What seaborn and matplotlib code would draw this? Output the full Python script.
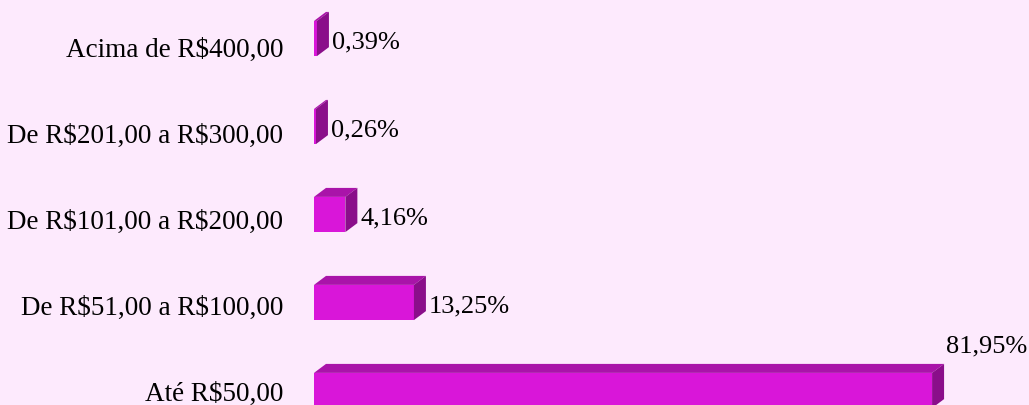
import matplotlib
matplotlib.use("Agg")
import matplotlib.pyplot as plt
import matplotlib.transforms as mtransforms
from matplotlib.patches import Polygon
import seaborn as sns
import pandas as pd

# --- data ---
faixas = ["Acima de R$400,00", "De R$201,00 a R$300,00", "De R$101,00 a R$200,00",
          "De R$51,00 a R$100,00", "Até R$50,00"]
percentuais = [0.39, 0.26, 4.16, 13.25, 81.95]
rotulos = ["0,39%", "0,26%", "4,16%", "13,25%", "81,95%"]

df = pd.DataFrame({"faixa": faixas, "pct": percentuais})

BG = "#FDEAFD"
FRONT = "#D916D9"
TOP = "#A914A9"
SIDE = "#8A0E8A"

sns.set_theme(style="white")
plt.rcParams["font.family"] = ["Liberation Serif", "DejaVu Serif"]
plt.rcParams["text.parse_math"] = False  # labels contain "$"

fig = plt.figure(figsize=(10.29, 4.05), dpi=100, facecolor=BG)
ax = fig.add_axes([314 / 1029, 0, 1 - 314 / 1029, 1])
ax.set_facecolor(BG)

sns.barplot(data=df, x="pct", y="faixa", orient="h", color=FRONT,
            saturation=1, width=0.4, ax=ax, linewidth=0)

ax.set_xlim(0, 94.8)
ax.set_ylim(4.165, -0.4375)

# 3D look: depth offsets in data units
dx = 1.59
dy = 0.102
for bar, txt, val in zip(ax.patches, rotulos, percentuais):
    x0, y0 = bar.get_x(), bar.get_y()
    w, h = bar.get_width(), bar.get_height()
    # with inverted y, y0 is the top edge visually
    top = Polygon([(x0, y0), (x0 + dx, y0 - dy), (x0 + w + dx, y0 - dy), (x0 + w, y0)],
                  closed=True, facecolor=TOP, edgecolor="none", zorder=3)
    side = Polygon([(x0 + w, y0), (x0 + w + dx, y0 - dy), (x0 + w + dx, y0 + h - dy), (x0 + w, y0 + h)],
                   closed=True, facecolor=SIDE, edgecolor="none", zorder=3)
    ax.add_patch(top)
    ax.add_patch(side)
    cy = y0 + h / 2
    if val == max(percentuais):
        ax.text(x0 + w + dx + 0.3, cy - 0.5, txt, ha="left", va="center", fontsize=19, color="black")
    else:
        ax.text(x0 + w + dx + 0.4, cy + 0.04, txt, ha="left", va="center", fontsize=19, color="black")

ax.set_xlabel("")
ax.set_ylabel("")
ax.set_xticks([])
ax.set_yticks(range(len(faixas)))
ax.set_yticklabels(faixas, fontsize=19.5, color="black")
ax.tick_params(axis="y", length=0, pad=22)
# category labels sit a little lower than the bars, less so toward the bottom
for i, lbl in enumerate(ax.get_yticklabels()):
    shift = mtransforms.ScaledTranslation(0, -(8.5 - 2.0 * i) / 100, fig.dpi_scale_trans)
    lbl.set_transform(lbl.get_transform() + shift)
sns.despine(ax=ax, left=True, bottom=True, top=True, right=True)

fig.savefig("out.png", dpi=100, facecolor=BG)
